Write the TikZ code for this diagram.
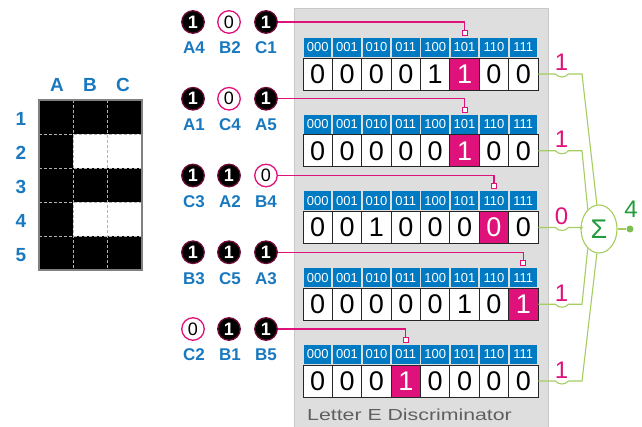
\documentclass[tikz,border=0pt]{standalone}
\usepackage{fontspec}
\setmainfont{Liberation Sans}
\usepackage{graphicx}
\usepackage{tikz}
\usetikzlibrary{positioning, shapes.geometric, calc}
\definecolor{bleuadresse}{RGB}{0, 122, 195}
\definecolor{bleuetiquette}{RGB}{25, 120, 190}
\definecolor{magentavif}{RGB}{222, 18, 122}
\definecolor{bordeaux}{RGB}{110, 10, 55}
\definecolor{vertfil}{RGB}{165, 205, 95}
\definecolor{vertfonce}{RGB}{35, 155, 60}
\definecolor{grisfond}{RGB}{222, 222, 222}
\definecolor{grisbord}{RGB}{200, 200, 200}
\definecolor{gristexte}{RGB}{95, 95, 95}

\begin{document}
\begin{tikzpicture}[x=1pt, y=-1pt,
    etiquette/.style={text=bleuetiquette, font=\fontsize{17}{17}\selectfont\bfseries, inner sep=0pt},
    entree1/.style={circle, draw=bordeaux, line width=1.3pt, fill=black, text=white, minimum size=22.5pt, inner sep=0pt, font=\fontsize{18}{18}\selectfont\bfseries},
    entree0/.style={circle, draw=magentavif, line width=1.3pt, fill=white, text=black, minimum size=22.5pt, inner sep=0pt, font=\fontsize{18}{18}\selectfont},
    adresse/.style={fill=bleuadresse, text=white, minimum width=27.4pt, minimum height=19pt, inner sep=0pt, font=\fontsize{13}{13}\selectfont},
    cellule/.style={draw=black!85, line width=0.8pt, fill=white, minimum width=29.375pt, minimum height=32pt, inner sep=0pt, font=\fontsize{27}{27}\selectfont},
    normale/.style={},
    choisie/.style={fill=magentavif, text=white},
    prise/.style={draw=magentavif, line width=1pt, fill=white, minimum size=5pt, inner sep=0pt},
    fil/.style={vertfil, line width=1.1pt},
    bitsortie/.style={text=magentavif, font=\fontsize{24}{24}\selectfont, inner sep=0pt, anchor=base}]
    \useasboundingbox (0,0) rectangle (642,427);
    % grille de la lettre
    \fill[black] (39,100) rectangle (142,270);
    \fill[white] (73.3,134) rectangle (142,168);
    \fill[white] (73.3,202) rectangle (142,236);
    \draw[gray!60, dash pattern=on 3pt off 2pt, line width=0.9pt] (73.3,100) -- (73.3,270) (107.7,100) -- (107.7,270);
    \foreach \yy in {134,168,202,236}
        \draw[gray!60, dash pattern=on 3pt off 2pt, line width=0.9pt] (39,\yy) -- (142,\yy);
    \draw[gray, line width=1.5pt] (39,100) rectangle (142,270);
    % étiquettes de la grille
    \node[etiquette, font=\fontsize{19}{19}\selectfont\bfseries] (colA) at (57,85) {A};
    \node[etiquette, font=\fontsize{19}{19}\selectfont\bfseries] (colB) at (90,85) {B};
    \node[etiquette, font=\fontsize{19}{19}\selectfont\bfseries] (colC) at (123,85) {C};
    \foreach \n [count=\k from 0] in {1,2,3,4,5}
        \node[etiquette, font=\fontsize{19}{19}\selectfont\bfseries] (ligne\n) at (21,119+34*\k) {\n};
    % panneau du discriminateur
    \fill[grisfond] (294,8) rectangle (548,427);
    \draw[grisbord] (294,427) -- (294,8) -- (548,8) -- (548,427);
    \node[text=gristexte, font=\fontsize{16}{16}\selectfont] (titre) at (409.5,415) {\scalebox{1.33}[1]{Letter E Discriminator}};
    % sommateur
    \node[ellipse, draw=vertfil, line width=1.1pt, fill=white, minimum width=36pt, minimum height=48pt, inner sep=0pt, text=vertfonce, font=\fontsize{27}{27}\selectfont] (sigma) at (599,229) {Σ};
    \node[circle, fill=vertfil!70!vertfonce, minimum size=7pt, inner sep=0pt] (sortie) at (630,229) {};
    \draw[fil] (sigma) -- (sortie);
    \node[text=vertfonce, font=\fontsize{24}{24}\selectfont] (total) at (631,209) {4};
    % les cinq n-uplets
    \foreach \r/\na/\va/\nb/\vb/\nc/\vc/\bits/\sel/\out/\ang in {
        0/A4/1/B2/0/C1/1/{0,0,0,0,1,1,0,0}/5/1/95,
        1/A1/1/C4/0/A5/1/{0,0,0,0,0,1,0,0}/5/1/120,
        2/C3/1/A2/1/B4/0/{0,0,1,0,0,0,0,0}/6/0/180,
        3/B3/1/C5/1/A3/1/{0,0,0,0,0,1,0,1}/7/1/240,
        4/C2/0/B1/1/B5/1/{0,0,0,1,0,0,0,0}/3/1/265} {
        \pgfmathsetmacro{\dy}{76.75*\r}
        % entrées
        \node[entree\va] (entree-\r-a) at (193,22+\dy) {\va};
        \node[entree\vb] (entree-\r-b) at (229,22+\dy) {\vb};
        \node[entree\vc] (entree-\r-c) at (266,22+\dy) {\vc};
        \node[etiquette] (nom-\r-a) at (194,48+\dy) {\na};
        \node[etiquette] (nom-\r-b) at (230,48+\dy) {\nb};
        \node[etiquette] (nom-\r-c) at (266,48+\dy) {\nc};
        % adresses et cellules
        \foreach \adr [count=\i from 0] in {000,001,010,011,100,101,110,111}
            \node[adresse] (adresse-\r-\i) at (317.6875+29.375*\i,47.5+\dy) {\adr};
        \foreach \v [count=\i from 0] in \bits {
            \ifnum\i=\sel \def\etat{choisie}\else \def\etat{normale}\fi
            \node[cellule, \etat] (cellule-\r-\i) at (317.6875+29.375*\i,74+\dy) {\v};
        }
        % liaison vers la cellule lue
        \node[prise] (prise-\r) at (317.6875+29.375*\sel,33+\dy) {};
        \draw[magentavif, line width=1.3pt] (entree-\r-c) -| (prise-\r);
        % fil vers le sommateur
        \coordinate (coin-\r) at (582,74+\dy);
        \draw[fil] (cellule-\r-7.east) -- ++(17,0) .. controls +(3,4) and +(-3,4) .. ++(13,0) -- (coin-\r) -- (sigma.\ang);
        \node[bitsortie] (bit-\r) at (561.5,71+\dy) {\out};
    }
\end{tikzpicture}
\end{document}
